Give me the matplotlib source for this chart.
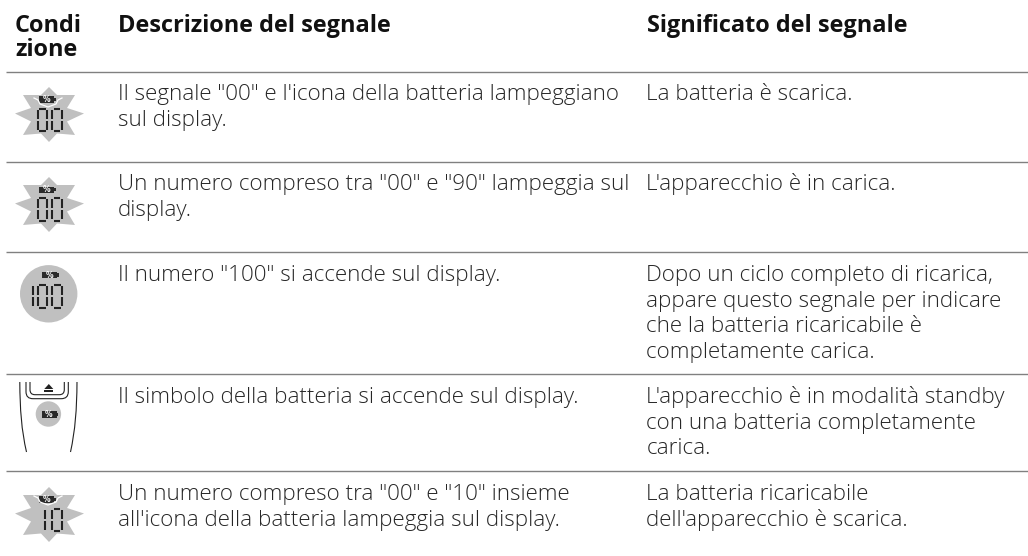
import numpy as np
import matplotlib
matplotlib.use("Agg")
import matplotlib.pyplot as plt
from matplotlib.patches import Polygon, Circle, Rectangle, PathPatch
from matplotlib.path import Path

headers = ["Condi\nzione", "Descrizione del segnale", "Significato del segnale"]
descriptions = [
    "Il segnale \"00\" e l'icona della batteria lampeggiano\nsul display.",
    "Un numero compreso tra \"00\" e \"90\" lampeggia sul\ndisplay.",
    "Il numero \"100\" si accende sul display.",
    "Il simbolo della batteria si accende sul display.",
    "Un numero compreso tra \"00\" e \"10\" insieme\nall'icona della batteria lampeggia sul display.",
]
meanings = [
    "La batteria è scarica.",
    "L'apparecchio è in carica.",
    "Dopo un ciclo completo di ricarica,\nappare questo segnale per indicare\nche la batteria ricaricabile è\ncompletamente carica.",
    "L'apparecchio è in modalità standby\ncon una batteria completamente\ncarica.",
    "La batteria ricaricabile\ndell'apparecchio è scarica.",
]

rule_y = [71.5, 161.5, 252, 374, 471]
baseline_y = [100, 190, 281, 403, 500]

FONT = "Open Sans"
fig = plt.figure(figsize=(10.28, 5.56), dpi=100)
ax = fig.add_axes([0, 0, 1, 1])
ax.set_xlim(0, 1028); ax.set_ylim(556, 0); ax.axis("off")

GREY = "#c0c0c0"; INK = "#262626"; SEGC = "#222222"

def star(cx, cy):
    tips = [(0, -27.5), (26, -19.5), (35, -1), (26, 20.5), (0, 27.5), (-26, 20.5), (-34, -1), (-26, -19.5)]
    inner = [(8, -19.5), (18, -6.5), (18, 7), (8, 19), (-8, 19), (-18, 7), (-18, -6.5), (-8, -19.5)]
    pts = []
    for t, i in zip(tips, inner):
        pts.append((cx + t[0], cy + t[1]))
        pts.append((cx + i[0], cy + i[1]))
    ax.add_patch(Polygon(pts, closed=True, fc=GREY, ec="none"))

def battery(x0, y0, w=15, h=6.6):
    ax.add_patch(Rectangle((x0, y0), w, h, fc="#2a2a2a", ec="none"))
    ax.add_patch(Rectangle((x0 + w, y0 + h * 0.25), 1.8, h * 0.5, fc="#2a2a2a", ec="none"))
    ax.text(x0 + w / 2, y0 + h / 2 + 0.2, "%", color="white", fontsize=5.5, ha="center", va="center",
            family="DejaVu Sans", fontweight="bold")

def seg(x0, y0, x1, y1):
    ax.plot([x0, x1], [y0, y1], color=SEGC, lw=1.5, solid_capstyle="butt")

def digit(x, y, ch, w=9.4, h=22.5):
    m = h / 2
    seg(x + w, y + 1.2, x + w, y + m - 1)
    seg(x + w, y + m + 1, x + w, y + h - 1.2)
    if ch == "1":
        return
    seg(x + 1.3, y, x + w - 1.3, y)
    seg(x + 1.3, y + h, x + w - 1.3, y + h)
    seg(x, y + 1.2, x, y + m - 1)
    seg(x, y + m + 1, x, y + h - 1.2)

def number(xs, y, txt):
    for x, c in zip(xs, txt):
        digit(x, y, c)

def flash(cx, cy):
    xs = np.array([-14, -10, -8, 0, 8, 10, 14]) + cx
    ys = np.array([-2, 0, 4, 7, 4, 0, -2]) + cy
    ax.plot(xs, ys, color="white", lw=0.9)

# row 1
star(49, 114.5); flash(48, 100); battery(39, 96.2); number([37.8, 52.3], 108.5, "00")
# row 2
star(49, 204.5); battery(39, 186.5); number([37.8, 52.3], 198, "00")
# row 3
ax.add_patch(Circle((48.7, 293.8), 28.7, fc=GREY, ec="none"))
battery(41.7, 271.7); number([23.4, 38, 52.4], 285, "100")
# row 4: device
def ushape(x0, x1, ytop, ybot, r):
    verts = [(x0, ytop), (x0, ybot - r), (x0, ybot), (x0 + r, ybot), (x1 - r, ybot), (x1, ybot), (x1, ybot - r), (x1, ytop)]
    codes = [Path.MOVETO, Path.LINETO, Path.CURVE3, Path.CURVE3, Path.LINETO, Path.CURVE3, Path.CURVE3, Path.LINETO]
    ax.add_patch(PathPatch(Path(verts, codes), fc="none", ec="#222", lw=0.8))
ushape(26, 68.3, 382, 398.7, 7)
ushape(30, 64.3, 382, 394.7, 5)
ax.add_patch(Polygon([(44.3, 389), (53.3, 389), (48.8, 384)], fc="#222", ec="none"))
ax.add_patch(Rectangle((44.3, 390), 9, 1.5, fc="#222", ec="none"))
ax.add_patch(Circle((48.4, 414), 12.7, fc=GREY, ec="none"))
battery(41.5, 411)
for xs in ([19.8, 20, 21.5, 26.5], [77, 76.8, 75.2, 70.5]):
    v = list(zip(xs, [382, 410, 430, 452]))
    ax.add_patch(PathPatch(Path(v, [Path.MOVETO, Path.CURVE4, Path.CURVE4, Path.CURVE4]), fc="none", ec="#222", lw=0.8))
# row 5
star(49, 514.5); flash(48, 498); battery(39, 496.2); number([36, 52.3], 508.5, "10")

for y in rule_y:
    ax.plot([6, 1028], [y, y], color="#808080", lw=1.0, solid_capstyle="butt")

# Text
def lines(x, y, txt, step, **kw):
    for i, s in enumerate(txt.split("\n")):
        ax.text(x, y + i * step, s, va="baseline", family=FONT, **kw)
HEAD = dict(fontsize=16.9, fontweight="bold", color="#111")
lines(15, 32, headers[0], 24.3, **HEAD)
lines(118, 32, headers[1], 24.3, **HEAD)
lines(647, 32, headers[2], 24.3, **HEAD)
BODY = dict(fontsize=16.1, color=INK, fontweight="light")
for y, d, m in zip(baseline_y, descriptions, meanings):
    lines(117.5, y, d, 25.6, **BODY)
    lines(646.5, y, m, 25.6, **BODY)

fig.savefig("out.png", dpi=100)
